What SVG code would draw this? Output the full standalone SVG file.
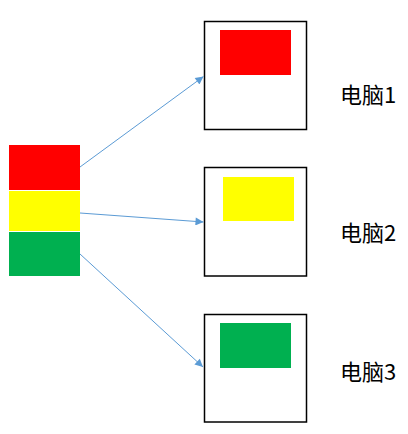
<svg xmlns="http://www.w3.org/2000/svg" width="408" height="434" viewBox="0 0 408 434">
<style>
.box{fill:#fff;stroke:#000;stroke-width:1.5}
.lbl{font-family:"Noto Sans CJK SC","Noto Sans",sans-serif;font-size:22px;fill:#000}
.conn{stroke:#5B9BD5;stroke-width:1;fill:none;marker-end:url(#ah)}
</style>
<defs>
<marker id="ah" viewBox="0 0 10 10" refX="10" refY="5" markerWidth="10" markerHeight="8" markerUnits="userSpaceOnUse" orient="auto">
<path d="M0,0 L10,5 L0,10 z" fill="#5B9BD5"/>
</marker>
</defs>
<rect width="408" height="434" fill="#fff"/>
<g id="source">
<rect x="9" y="145" width="71" height="45" fill="#FF0000"/>
<rect x="9" y="191" width="71" height="40" fill="#FFFF00"/>
<rect x="9" y="232" width="71" height="44" fill="#00B050"/>
</g>
<g id="pc1">
<rect class="box" x="204.5" y="21.5" width="102" height="108"/>
<rect x="220" y="30" width="71" height="45" fill="#FF0000"/>
<text class="lbl" x="340" y="102.5">电脑1</text>
</g>
<g id="pc2">
<rect class="box" x="204.5" y="167.5" width="102" height="108.5"/>
<rect x="223" y="177" width="71" height="44" fill="#FFFF00"/>
<text class="lbl" x="340" y="240.5">电脑2</text>
</g>
<g id="pc3">
<rect class="box" x="204.5" y="314.5" width="102" height="107.5"/>
<rect x="220" y="323" width="71" height="45" fill="#00B050"/>
<text class="lbl" x="340" y="379.5">电脑3</text>
</g>
<g id="connectors">
<line class="conn" x1="80" y1="167" x2="203.5" y2="76.5"/>
<line class="conn" x1="80" y1="213" x2="203.5" y2="222"/>
<line class="conn" x1="80" y1="254" x2="203" y2="367"/>
</g>
</svg>
